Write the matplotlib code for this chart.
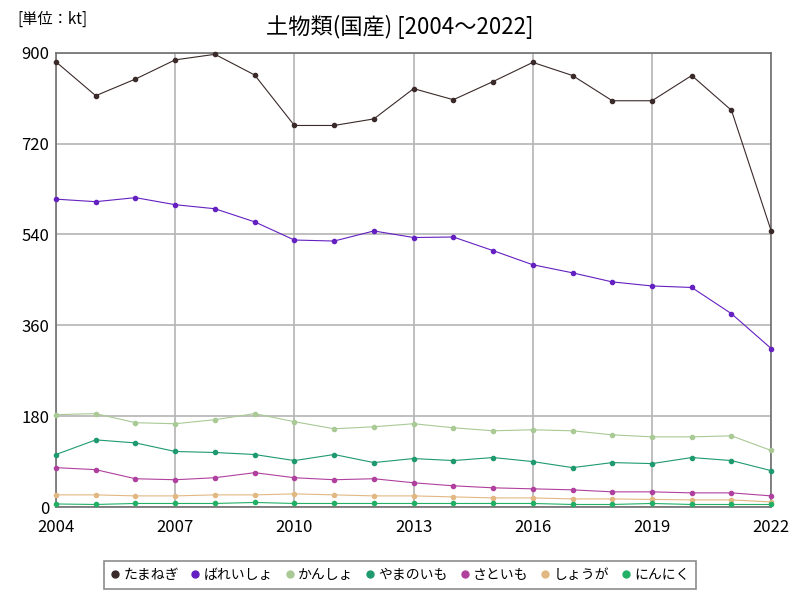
import matplotlib
matplotlib.use("Agg")
import matplotlib.pyplot as plt

plt.rcParams["font.family"] = ["Noto Sans CJK JP", "DejaVu Sans"]

years = list(range(2004, 2023))
names = ["たまねぎ", "ばれいしょ", "かんしょ", "やまのいも", "さといも", "しょうが", "にんにく"]
colors = ["#3b2a2a", "#6420c0", "#a9c995", "#1e9a6e", "#b0409e", "#e2b882", "#22b066"]

tamanegi = [882, 815, 848, 886, 897, 856, 756, 756, 769, 829, 807, 843, 881, 855, 805, 805, 855, 786, 547]
bareisho = [610, 605, 613, 599, 591, 565, 529, 527, 547, 534, 535, 508, 480, 464, 446, 438, 435, 383, 314]
kansho = [183, 185, 167, 165, 173, 185, 169, 155, 159, 165, 157, 151, 153, 151, 143, 139, 139, 141, 112]
yamanoimo = [104, 133, 127, 110, 108, 104, 92, 104, 88, 96, 92, 98, 90, 78, 88, 86, 98, 92, 72]
satoimo = [78, 74, 56, 54, 58, 68, 58, 54, 56, 48, 42, 38, 36, 34, 30, 30, 28, 28, 22]
shouga = [24, 24, 22, 22, 24, 24, 26, 24, 22, 22, 20, 18, 18, 16, 16, 15, 14, 14, 10]
ninniku = [6, 5, 7, 7, 7, 9, 7, 7, 7, 7, 7, 7, 7, 5, 5, 7, 5, 5, 5]

series = [tamanegi, bareisho, kansho, yamanoimo, satoimo, shouga, ninniku]

fig = plt.figure(figsize=(8, 6), dpi=100)
ax = fig.add_axes([0.07, 0.155, 0.894, 0.757])

for name, vals, c in zip(names, series, colors):
    ax.plot(years, vals, color=c, lw=0.8, marker="o", ms=3, label=name, clip_on=False, zorder=3)

ax.set_xlim(2004, 2022)
ax.set_ylim(0, 900)
ax.set_xticks(range(2004, 2023, 3))
ax.set_yticks(range(0, 901, 180))
ax.grid(True, color="#b4b4b4", lw=1.2)
ax.set_axisbelow(True)
ax.tick_params(axis="y", length=0, labelsize=12, pad=5)
ax.tick_params(axis="x", length=0, labelsize=12, pad=9)
for s in ax.spines.values():
    s.set_color("#707070")
    s.set_linewidth(1.2)

fig.text(0.5, 0.955, "土物類(国産) [2004～2022]", ha="center", va="center", fontsize=16)
fig.text(0.022, 0.968, "[単位：kt]", ha="left", va="center", fontsize=11)

leg = fig.legend(loc="center", bbox_to_anchor=(0.5, 0.042), ncol=7, frameon=True,
                 fontsize=10, handlelength=0.6, handletextpad=0.3, columnspacing=0.9,
                 fancybox=False, edgecolor="#707070", borderpad=0.5)
for h in leg.legend_handles:
    h.set_linestyle("none")
    h.set_markersize(5)
leg.get_frame().set_linewidth(1.2)

fig.savefig("out.png", dpi=100)
